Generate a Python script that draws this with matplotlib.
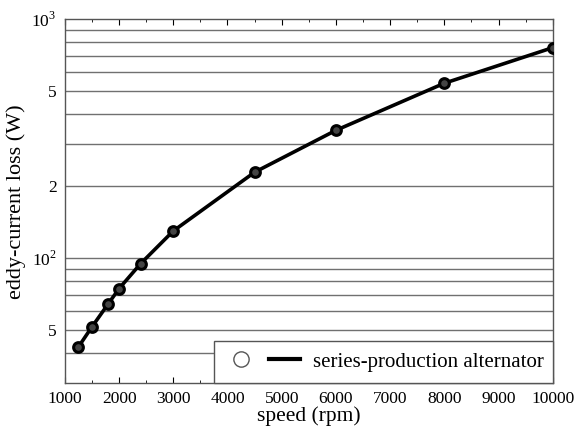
import matplotlib
matplotlib.use("Agg")
import matplotlib.pyplot as plt
import numpy as np
from matplotlib.ticker import FixedLocator, NullFormatter, MultipleLocator
from matplotlib.lines import Line2D
from matplotlib.legend_handler import HandlerTuple

plt.rcParams['font.family'] = ['Liberation Serif', 'DejaVu Serif']
plt.rcParams['mathtext.fontset'] = 'custom'
plt.rcParams['mathtext.rm'] = 'Liberation Serif'

speed = [1250, 1500, 1800, 2000, 2400, 3000, 4500, 6000, 8000, 10000]
loss = [42.5, 51.6, 64.4, 74.6, 95, 130, 229, 343, 540, 761]

ytick_vals = [50, 100, 200, 500, 1000]
ytick_labels = ['5', '$10^2$', '2', '5', '$10^3$']
grid_vals = [40, 50, 60, 70, 80, 90, 100, 200, 300, 400, 500, 600, 700, 800, 900]

fig = plt.figure(figsize=(5.74, 4.29), dpi=100)
ax = fig.add_axes([0.113, 0.107, 0.850, 0.848])

for g in grid_vals:
    ax.axhline(g, color='#707070', lw=1.0, zorder=1)

ax.plot(speed, loss, color='black', lw=2.6, marker='o', ms=7,
        mfc='#444444', mec='black', mew=2.2, zorder=3)

ax.set_yscale('log')
ax.set_xlim(1000, 10000)
ax.set_ylim(30, 1000)
ax.xaxis.set_major_locator(MultipleLocator(1000))
ax.xaxis.set_minor_locator(MultipleLocator(500))
ax.yaxis.set_major_locator(FixedLocator(ytick_vals))
ax.yaxis.set_ticklabels(ytick_labels)
ax.yaxis.set_minor_formatter(NullFormatter())
ax.tick_params(axis='x', which='both', direction='in', top=True, labelsize=12.5, pad=6)
ax.tick_params(axis='x', which='major', length=4)
ax.tick_params(axis='x', which='minor', length=2)
ax.tick_params(axis='y', which='both', length=0, labelsize=12.5, pad=6)
for s in ax.spines.values():
    s.set_color('#555555')
    s.set_linewidth(1.0)

ax.set_xlabel('speed (rpm)', fontsize=15.5, labelpad=-1)
ax.set_ylabel('eddy-current loss (W)', fontsize=16, labelpad=4)

mk = Line2D([], [], ls='none', marker='o', ms=11, mfc='white', mec='#555555', mew=1.0)
ln = Line2D([], [], color='black', lw=3)
leg = ax.legend([(mk, ln)], ['series-production alternator'],
                handler_map={tuple: HandlerTuple(ndivide=None, pad=0.6)},
                loc='lower left', bbox_to_anchor=(0.305, 0.0, 0.695, 0.129),
                mode='expand', borderaxespad=0, fancybox=False,
                fontsize=15, handlelength=3.6, handletextpad=0.6,
                framealpha=1, edgecolor='#555555', borderpad=0.55)
leg.get_frame().set_linewidth(1.0)
leg.set_zorder(5)

fig.savefig('out.png', dpi=100)
